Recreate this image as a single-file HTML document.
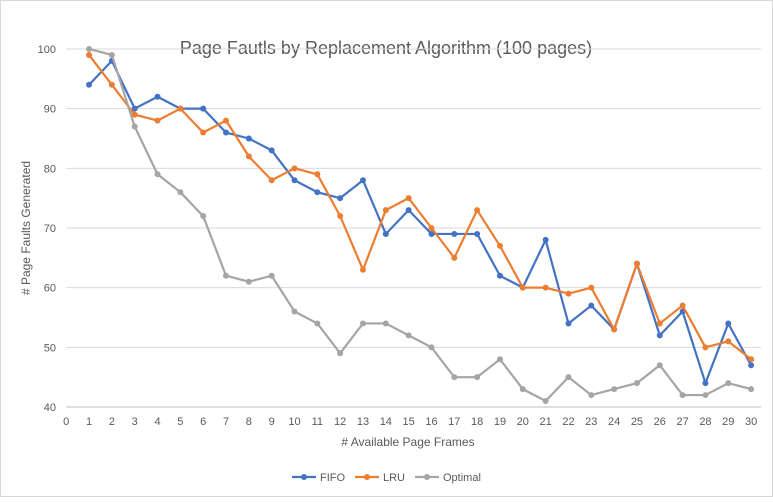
<!DOCTYPE html>
<html><head><meta charset="utf-8"><style>
body{margin:0;background:#fff;font-family:"Liberation Sans",sans-serif}
svg text{font-family:"Liberation Sans",sans-serif;fill:#595959}
</style></head><body>
<svg id="c" width="773" height="497">
<rect x="0.5" y="0.5" width="772" height="496" fill="#fff" stroke="#d9d9d9"/>
<text x="386" y="54" text-anchor="middle" font-size="18">Page Fautls by Replacement Algorithm (100 pages)</text>
<text transform="translate(30,228) rotate(-90)" text-anchor="middle" font-size="12"># Page Faults Generated</text>
<text x="408" y="446" text-anchor="middle" font-size="12"># Available Page Frames</text>
<g id="grid"></g><g id="axes"></g><g id="series"></g><g id="legend"></g>
</svg>
<script>
const xCats=[1,2,3,4,5,6,7,8,9,10,11,12,13,14,15,16,17,18,19,20,21,22,23,24,25,26,27,28,29,30];
const fifo=[94,98,90,92,90,90,86,85,83,78,76,75,78,69,73,69,69,69,62,60,68,54,57,53,64,52,56,44,54,47];
const lru=[99,94,89,88,90,86,88,82,78,80,79,72,63,73,75,70,65,73,67,60,60,59,60,53,64,54,57,50,51,48];
const optimal=[100,99,87,79,76,72,62,61,62,56,54,49,54,54,52,50,45,45,48,43,41,45,42,43,44,47,42,42,44,43];
const yTicks=[40,50,60,70,80,90,100];
const xTicks=[0,1,2,3,4,5,6,7,8,9,10,11,12,13,14,15,16,17,18,19,20,21,22,23,24,25,26,27,28,29,30];
const seriesNames=["FIFO","LRU","Optimal"];
const colors=["#4472c4","#ed7d31","#a5a5a5"];
const NS="http://www.w3.org/2000/svg";
const X=v=>66.2+v*22.83;
const Y=v=>407-(v-40)*5.967;
function mk(tag,attrs,parent,txt){const e=document.createElementNS(NS,tag);for(const k in attrs)e.setAttribute(k,attrs[k]);if(txt!==undefined)e.textContent=txt;parent.appendChild(e);return e;}
const grid=document.getElementById('grid'),axes=document.getElementById('axes'),ser=document.getElementById('series'),leg=document.getElementById('legend');
yTicks.forEach(t=>{
 const l=mk('line',{x1:X(0),x2:X(30)+10,y1:Y(t),y2:Y(t),stroke:t===40?'#bfbfbf':'#d9d9d9'},grid);
 
 
 const tx=mk('text',{x:56,y:Y(t)+4,'text-anchor':'end','font-size':'11'},axes,t);
 
 
});
xTicks.forEach(t=>{
 const tx=mk('text',{x:X(t),y:Y(40)+18,'text-anchor':'middle','font-size':'11'},axes,t);
 
 
});
[fifo,lru,optimal].forEach((d,i)=>{
 const g=mk('g',{},ser);
 
 
 const p=mk('polyline',{points:d.map((v,j)=>X(xCats[j])+','+Y(v)).join(' '),fill:'none',stroke:colors[i],'stroke-width':2.2},g);
 
 
 d.forEach((v,j)=>{
  const c=mk('circle',{cx:X(xCats[j]),cy:Y(v),r:3,fill:colors[i]},g);
  
  
 });
});
const lx=[292,355,415];
seriesNames.forEach((n,i)=>{
 const g=mk('g',{},leg);
 
 
 mk('line',{x1:lx[i],x2:lx[i]+24,y1:477,y2:477,stroke:colors[i],'stroke-width':2.2},g);
 mk('circle',{cx:lx[i]+12,cy:477,r:3,fill:colors[i]},g);
 mk('text',{x:lx[i]+28,y:481,'font-size':'11'},g,n);
});
</script>
</body></html>
